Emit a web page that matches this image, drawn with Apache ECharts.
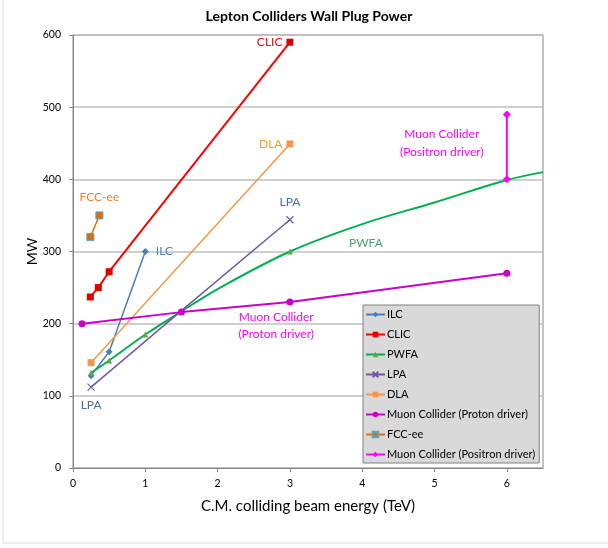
<!DOCTYPE html>
<html><head><meta charset="utf-8">
<script src="https://cdn.jsdelivr.net/npm/echarts@6/dist/echarts.min.js"></script>
<style>html,body{margin:0;padding:0;background:#fff}#c{width:608px;height:548px}</style>
</head><body><div id="c"></div>
<script>
const xTicks = [0,1,2,3,4,5,6];
const ilc = [[0.25,128],[0.5,161],[1,300]];
const clic = [[0.24,237],[0.35,250],[0.5,272],[3,590]];
const pwfa = [[0.25,132],[0.5,149],[1,185],[1.5,217],[2,248],[3,300],[4,338],[5,368],[6,399],[6.5,410]];
const pwfaMarked = [0.25,0.5,1,3];
const lpa = [[0.25,112],[1.5,218],[3,344]];
const dla = [[0.25,146],[3,449]];
const muonProton = [[0.125,200],[1.5,216],[3,230],[6,270]];
const fccee = [[0.24,320],[0.365,350]];
const muonPositron = [[6,400],[6,490]];

const FONT = 'Lato, "Open Sans", sans-serif';
const chart = echarts.init(document.getElementById('c'));
const lbl = (color, pos, dist) => ({show:true, position:pos, distance:dist, color:color, fontSize:12, fontFamily:FONT, formatter:p=>p.seriesName});
function mark(d, opts){ return Object.assign({value:d}, opts||{}); }
const xMark = 'path://M0,0L10,10M10,0L0,10';

chart.setOption({
  animation:false,
  title:{text:'Lepton Colliders Wall Plug Power', left:304, top:4, textAlign:'center',
    textStyle:{fontSize:14, fontWeight:'bold', color:'#000', fontFamily:FONT}},
  graphic:[{type:'rect', shape:{x:3, y:-5, width:610, height:548}, style:{fill:'none', stroke:'#d9d9d9', lineWidth:1}, silent:true}],
  grid:{left:73, right:65, top:35, bottom:80, show:true, borderColor:'#868686', borderWidth:1},
  legend:{orient:'vertical', left:363, top:305, backgroundColor:'#d9d9d9', borderColor:'#808080', borderWidth:1,
    padding:[3,4,2,2], itemGap:7, itemWidth:19, itemHeight:7,
    textStyle:{fontSize:11, fontFamily:FONT, color:'#000', padding:[0,0,0,-3], height:13, lineHeight:13},
    data:['ILC','CLIC','PWFA','LPA','DLA','Muon Collider (Proton driver)','FCC-ee','Muon Collider (Positron driver)']},
  xAxis:{type:'value', min:0, max:6.5, interval:1,
    name:'C.M. colliding beam energy (TeV)', nameLocation:'middle', nameGap:31, nameMoveOverlap:false,
    nameTextStyle:{fontSize:15, fontFamily:FONT, color:'#000'},
    axisLine:{lineStyle:{color:'#868686'}}, axisTick:{show:true, inside:false, length:4, lineStyle:{color:'#868686'}},
    splitLine:{show:false},
    axisLabel:{fontSize:10.5, fontFamily:FONT, color:'#000', margin:10, showMaxLabel:false, formatter:v=>xTicks.includes(v)?String(v):''}},
  yAxis:{type:'value', min:0, max:600, interval:100,
    name:'MW', nameLocation:'middle', nameGap:34, nameRotate:90, nameMoveOverlap:false,
    nameTextStyle:{fontSize:14, fontFamily:FONT, color:'#000'},
    axisLine:{show:true, lineStyle:{color:'#868686'}}, axisTick:{show:true, length:4, lineStyle:{color:'#868686'}},
    splitLine:{lineStyle:{color:'#bfbfbf', width:1.5}},
    axisLabel:{fontSize:10.5, fontFamily:FONT, color:'#000', margin:12}},
  series:[
    {name:'ILC', type:'line', data:ilc.map((d,i)=>i===2?mark(d,{label:lbl('#4a7ebb','right',7)}):d),
      symbol:'diamond', symbolSize:7, lineStyle:{color:'#4a7ebb', width:1.5}, itemStyle:{color:'#4a7ebb'}},
    {name:'CLIC', type:'line', data:clic.map((d,i)=>i===3?mark(d,{label:lbl('#ff0000','left',4)}):d),
      symbol:'rect', symbolSize:7, lineStyle:{color:'#ff0000', width:2}, itemStyle:{color:'#e00000'}},
    {name:'PWFA', type:'line', smooth:0.35, data:pwfa.map(d=>pwfaMarked.includes(d[0])?d:mark(d,{symbol:'none'})),
      symbol:'triangle', symbolSize:6, lineStyle:{color:'#00b050', width:2}, itemStyle:{color:'#5fa84a'},
      markPoint:{symbol:'circle', symbolSize:0, data:[{coord:[4.05,312], label:{show:true, position:'inside', formatter:'PWFA', color:'#4aa36a', fontSize:12, fontFamily:FONT}}]}},
    {name:'LPA', type:'line', data:lpa.map((d,i)=>i===0?mark(d,{label:lbl('#4a6fa5','bottom',8)}):(i===2?mark(d,{label:lbl('#4a6fa5','top',8)}):mark(d,{symbol:'none'}))),
      symbol:xMark, symbolSize:7, lineStyle:{color:'#7358a0', width:1.5}, itemStyle:{color:'#7358a0', borderColor:'#7358a0', borderWidth:1.2}},
    {name:'DLA', type:'line', data:dla.map((d,i)=>i===1?mark(d,{label:lbl('#f5a020','left',4)}):d),
      symbol:'rect', symbolSize:7, lineStyle:{color:'#f79646', width:1.5}, itemStyle:{color:'#f79646'}},
    {name:'Muon Collider (Proton driver)', type:'line', data:muonProton,
      symbol:'circle', symbolSize:7, lineStyle:{color:'#cc00cc', width:2}, itemStyle:{color:'#cc00cc'},
      markPoint:{symbol:'circle', symbolSize:0, data:[{coord:[2.81,197], label:{show:true, position:'inside', formatter:'Muon Collider\n(Proton driver)', lineHeight:17, color:'#ff00ff', fontSize:12, fontFamily:FONT}}]}},
    {name:'FCC-ee', type:'line', data:fccee.map((d,i)=>i===1?mark(d,{label:lbl('#f08030','top',8)}):d),
      symbol:'rect', symbolSize:7, lineStyle:{color:'#e36c09', width:1.5}, itemStyle:{color:'#e36c09', borderColor:'#4bacc6', borderWidth:1}},
    {name:'Muon Collider (Positron driver)', type:'line', data:muonPositron,
      symbol:'diamond', symbolSize:8, lineStyle:{color:'#ff00ff', width:2}, itemStyle:{color:'#ff00ff'},
      markPoint:{symbol:'circle', symbolSize:0, data:[{coord:[5.1,450], label:{show:true, position:'inside', formatter:'Muon Collider\n(Positron driver)', lineHeight:18, color:'#ff00ff', fontSize:12, fontFamily:FONT}}]}}
  ]
});
</script></body></html>
